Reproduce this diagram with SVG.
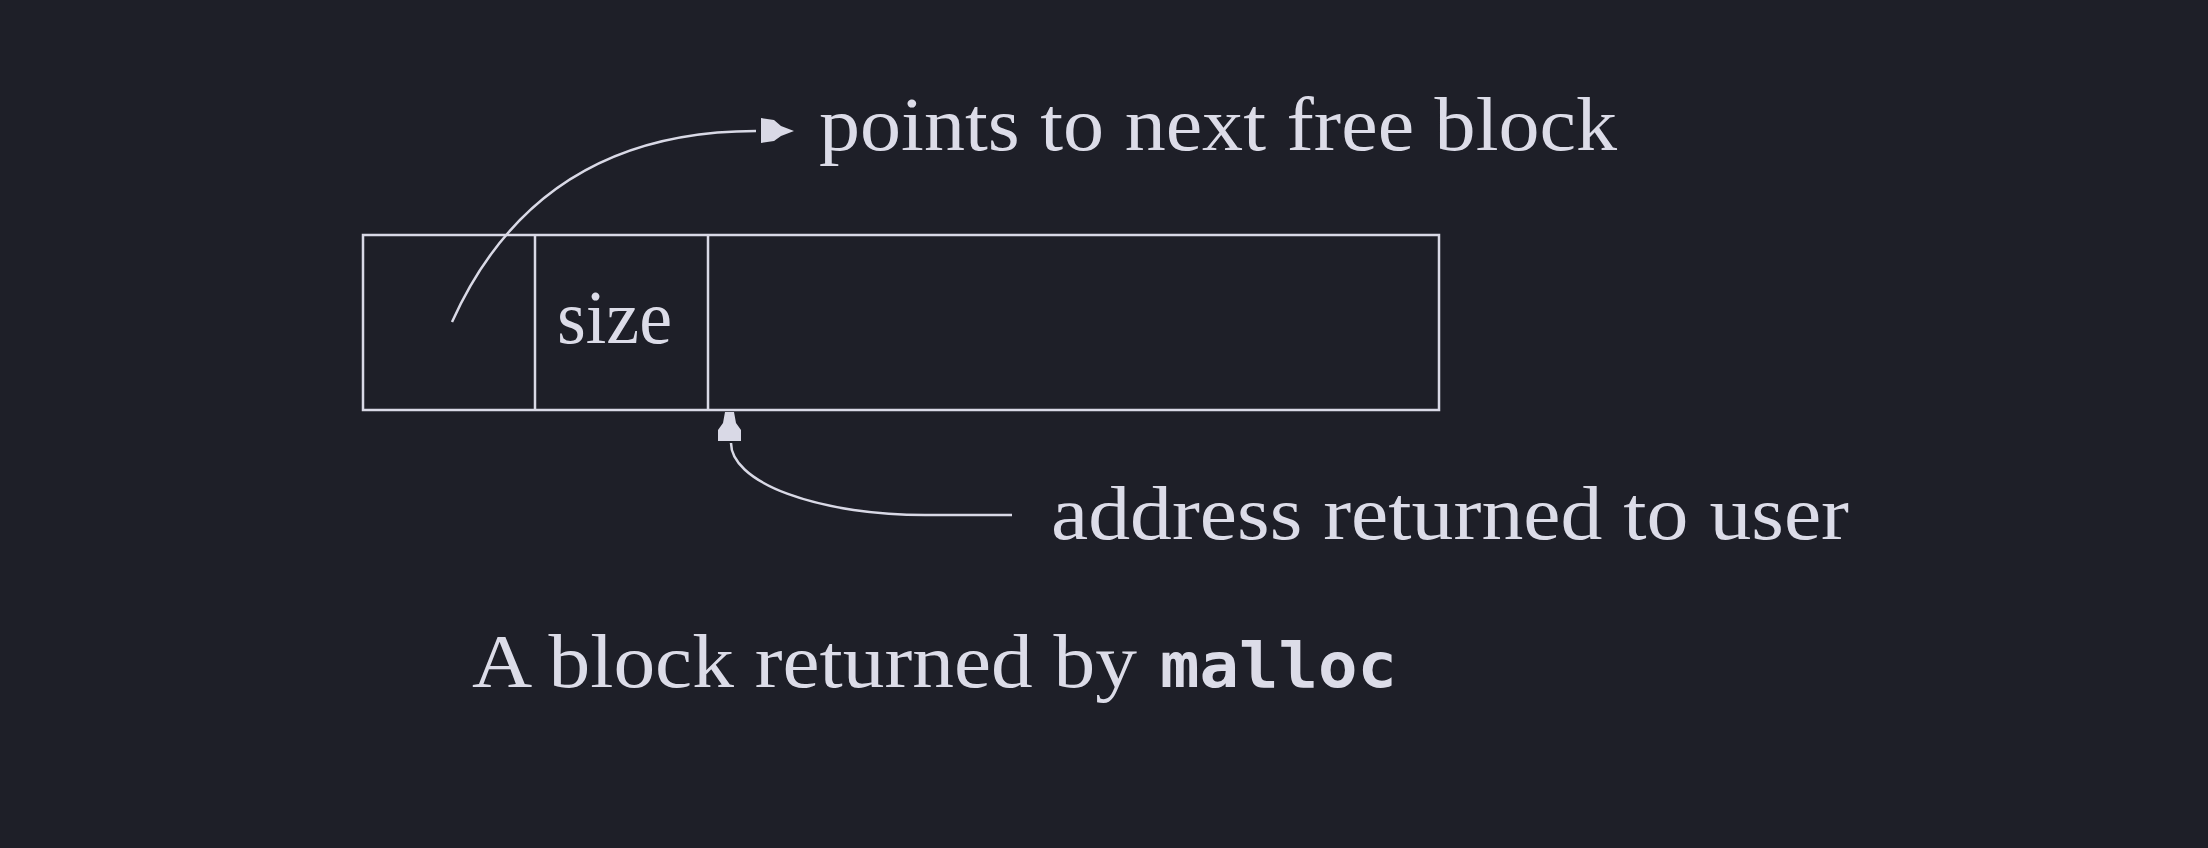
<svg xmlns="http://www.w3.org/2000/svg" width="2208" height="848" viewBox="0 0 2208 848">
<style>
.bg{fill:#1e1f28}
.box{fill:none;stroke:#d9d9e6;stroke-width:2.5}
.conn{fill:none;stroke:#d9d9e6;stroke-width:2.5}
.head{fill:#d9d9e6;stroke:none}
.t{font-family:"Liberation Serif","Times New Roman",serif;font-size:76px;fill:#dcdce8}
.tt{font-family:"DejaVu Sans Mono","Liberation Mono",monospace;font-weight:bold;font-size:62px;fill:#dcdce8}
</style>
<rect class="bg" x="0" y="0" width="2208" height="848"/>
<g id="block">
<rect class="box" x="363" y="235" width="1076" height="175"/>
<line class="box" x1="535" y1="235" x2="535" y2="410"/>
<line class="box" x1="708" y1="235" x2="708" y2="410"/>
<text class="t" x="557" y="343" textLength="115" lengthAdjust="spacingAndGlyphs">size</text>
</g>
<g id="connectors">
<path class="conn" d="M452,322 Q538,131 756,131"/>
<polygon class="head" points="761,118 774,120 781,126 794,131 781,136 774,141 761,143"/>
<path class="conn" d="M1012,515 L925,515 A194,72 0 0 1 731,443"/>
<polygon class="head" points="725,412 734,412 736,423 741,430 741,441 718,441 718,430 723,423"/>
</g>
<g id="label-next">
<text class="t" x="819" y="150" textLength="798" lengthAdjust="spacingAndGlyphs">points to next free block</text>
</g>
<g id="label-address">
<text class="t" x="1051" y="539" textLength="798" lengthAdjust="spacingAndGlyphs">address returned to user</text>
</g>
<g id="caption">
<text class="t" x="472" y="687" textLength="665" lengthAdjust="spacingAndGlyphs">A block returned by</text>
<text class="tt" x="1160" y="687" textLength="237" lengthAdjust="spacingAndGlyphs">malloc</text>
</g>
</svg>
